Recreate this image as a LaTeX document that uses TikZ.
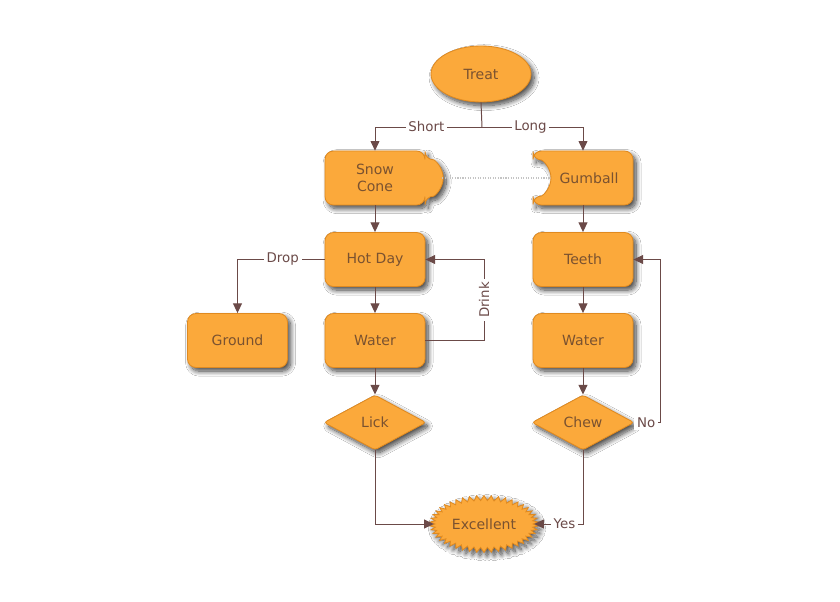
\documentclass[tikz,border=0pt]{standalone}
\usepackage{fontspec}
\setmainfont{DejaVu Sans}
\usetikzlibrary{positioning,arrows.meta,shapes.geometric,shapes.symbols,backgrounds,shadows.blur,calc}
\definecolor{tfill}{HTML}{FBA93B}
\definecolor{tline}{HTML}{E08A20}
\definecolor{ttext}{HTML}{7A5230}
\definecolor{tedge}{HTML}{6B4A48}
\definecolor{tdots}{HTML}{C4C4C4}
\tikzset{tshadow/.style={blur shadow={shadow xshift=2.2pt, shadow yshift=-2.6pt, shadow blur radius=3.5pt, shadow blur steps=12, shadow opacity=75}}}
\tikzset{tbase/.style={text=ttext, font=\fontsize{10}{12.5}\selectfont, align=center}}
\tikzset{tbox/.style={tbase, rectangle, rounded corners=6pt, draw=tline, fill=tfill, line width=0.6pt, minimum width=2.5cm, minimum height=1.35cm, tshadow}}
\tikzset{tplain/.style={tbase, rectangle, minimum width=2.5cm, minimum height=1.35cm}}
\tikzset{toutline/.style={draw=tline, fill=tfill, line width=0.6pt, rounded corners=6pt, tshadow}}
\tikzset{tdecide/.style={tbase, diamond, aspect=1.85, rounded corners=2pt, draw=tline, fill=tfill, line width=0.6pt, minimum width=2.55cm, minimum height=1.375cm, inner sep=1pt, tshadow}}
\tikzset{tterm/.style={tbase, ellipse, draw=tline, fill=tfill, line width=0.6pt, minimum width=2.5cm, minimum height=1.4cm, inner sep=0pt, tshadow}}
\tikzset{tburst/.style={tbase, starburst, starburst points=46, starburst point height=3.5pt, random starburst=0, draw=tline, fill=tfill, line width=0.6pt, minimum width=2.7cm, minimum height=1.42cm, inner sep=0pt, tshadow}}
\tikzset{tflow/.style={-{Triangle[length=2.4mm, width=2.2mm]}, draw=tedge, line width=0.7pt}}
\tikzset{tlab/.style={fill=white, text=tedge, inner sep=2pt, font=\fontsize{9.5}{11}\selectfont}}

\begin{document}
\begin{tikzpicture}
  \useasboundingbox (0,0) rectangle (21,15.025);

  \node[tterm] (treat) at (12.025,13.175) {Treat};
  \coordinate (split) at (12.05,11.85);

  \node[tplain] (snow) at (9.375,10.575) {Snow\\Cone};
  \node[tplain] (gum) at (14.575,10.575) {\hspace*{0.3cm}Gumball};

  \node[tbox] (hot) at (9.375,8.5375) {Hot Day};
  \node[tbox] (water1) at (9.375,6.5125) {Water};
  \node[tbox] (ground) at (5.9375,6.5125) {Ground};
  \node[tdecide] (lick) at (9.375,4.4625) {Lick};

  \node[tbox] (teeth) at (14.575,8.5375) {Teeth};
  \node[tbox] (water2) at (14.575,6.5125) {Water};
  \node[tdecide] (chew) at (14.575,4.4625) {Chew};

  \node[tburst] (excellent) at (12.1,1.925) {Excellent};

  % white page, then snow cone tab and gumball notch
  \begin{scope}[on background layer]
    \fill[white] (0,0) rectangle (21,15.025);
    \draw[toutline] ([shift={(-1.25,0.675)}]snow.center) -- ++(2.5,0) -- ++(0,-0.22)
      arc[start angle=90, end angle=-90, radius=0.455] -- ([shift={(1.25,-0.675)}]snow.center) -- ++(-2.5,0) -- cycle;
    \draw[toutline] ([shift={(-1.25,0.675)}]gum.center) -- ++(2.5,0) -- ++(0,-1.35) -- ++(-2.5,0) -- ++(0,0.225)
      arc[start angle=-90, end angle=90, radius=0.45] -- cycle;
  \end{scope}
  \coordinate (snowtip) at (11.055,10.575);
  \coordinate (gumnotch) at (13.775,10.575);
  \draw[tdots, densely dotted, line width=0.8pt] (snowtip) -- (gumnotch);

  \coordinate (drinkup) at (12.1,8.5375);
  \coordinate (noup) at (16.5,8.5375);

  \draw[draw=tedge, line width=0.7pt] (treat.south) -- (split);
  \draw[tflow] (split) -| node[tlab, pos=0.26] {Short} (snow.north);
  \draw[tflow] (split) -| node[tlab, pos=0.24] {Long} (gum.north);

  \draw[tflow] (snow) -- (hot);
  \draw[tflow] (hot) -- (water1);
  \draw[tflow] (water1) -- (lick);
  \draw[tflow] (hot.west) -| node[tlab, pos=0.24] {Drop} (ground.north);
  \draw[tflow] (water1.east) -| node[tlab, rotate=90, pos=0.75] {Drink} (drinkup) -- (hot.east);

  \draw[tflow] (gum) -- (teeth);
  \draw[tflow] (teeth) -- (water2);
  \draw[tflow] (water2) -- (chew);
  \draw[tflow] (chew.east) -| node[tlab, pos=0.23] {No} (noup) -- (teeth.east);

  \draw[tflow] (lick.south) |- (excellent.west);
  \draw[tflow] (chew.south) |- node[tlab, pos=0.69] {Yes} (excellent.east);
\end{tikzpicture}
\end{document}
